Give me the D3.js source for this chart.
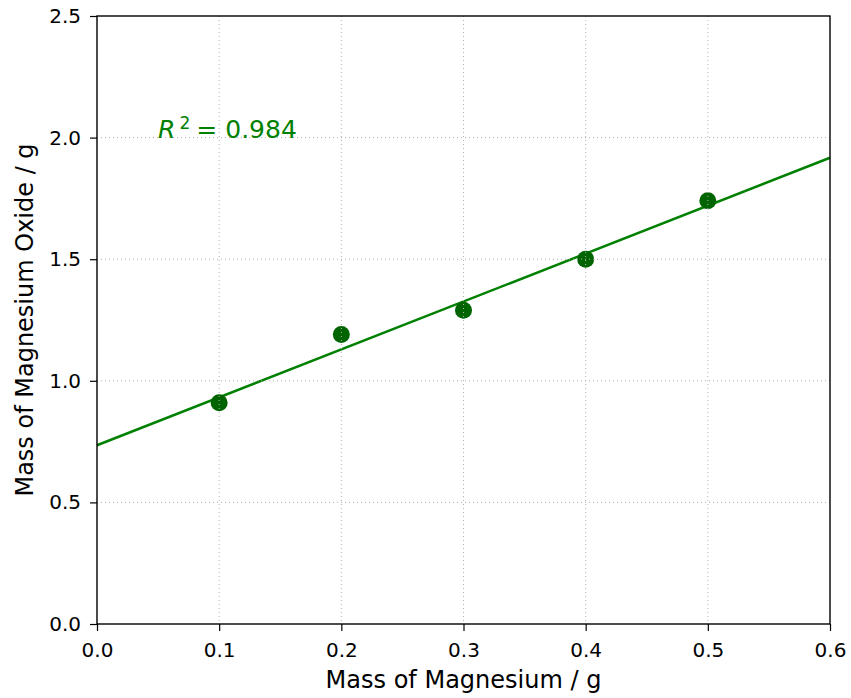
<!DOCTYPE html>
<html>
<head>
<meta charset="utf-8">
<script src="https://cdn.jsdelivr.net/npm/d3@7"></script>
<style>
  body { margin: 0; background: #fff; }
  svg text { font-family: "DejaVu Sans", sans-serif; }
</style>
</head>
<body>
<div id="chart"></div>
<script>
// data
let magnesium = [0.1, 0.2, 0.3, 0.4, 0.5];
let oxide = [0.91, 1.19, 1.29, 1.50, 1.74];
let xTicks = [0.0, 0.1, 0.2, 0.3, 0.4, 0.5, 0.6];
let yTicks = [0.0, 0.5, 1.0, 1.5, 2.0, 2.5];
let r2Label = '0.984';

let dim = { width: 851, height: 698 };
let plot = { left: 97, right: 830, top: 16, bottom: 624 };

let svg = d3.select('#chart')
    .append('svg')
    .attr('width', dim.width)
    .attr('height', dim.height);

let scaleX = d3.scaleLinear().domain([0, 0.6]).range([plot.left, plot.right]);
let scaleY = d3.scaleLinear().domain([0, 2.5]).range([plot.bottom, plot.top]);

// least squares fit
let mx = d3.mean(magnesium), my = d3.mean(oxide);
let sxy = d3.sum(magnesium, (x, i) => (x - mx) * (oxide[i] - my));
let sxx = d3.sum(magnesium, x => (x - mx) * (x - mx));
let slope = sxy / sxx;
let intercept = my - slope * mx;

// fit line across the whole x range
let fit = scaleX.domain().map(x => ({ x: x, y: intercept + slope * x }));
svg.append('path')
    .datum(fit)
    .attr('fill', 'none')
    .attr('stroke', '#008000')
    .attr('stroke-width', 2.5)
    .attr('d', d3.line().x(d => scaleX(d.x)).y(d => scaleY(d.y)));

// points
svg.append('g')
    .selectAll('circle')
    .data(magnesium)
    .join('circle')
    .attr('cx', d => scaleX(d))
    .attr('cy', (d, i) => scaleY(oxide[i]))
    .attr('r', 8.5)
    .attr('fill', '#006400');

// grid (sits on top like in the original)
let grid = svg.append('g')
    .attr('stroke', '#b0b0b0')
    .attr('stroke-width', 1)
    .attr('stroke-dasharray', '1,3');
grid.selectAll('.gx')
    .data(xTicks.slice(1, -1))
    .join('line')
    .attr('x1', d => scaleX(d)).attr('x2', d => scaleX(d))
    .attr('y1', plot.top).attr('y2', plot.bottom);
grid.selectAll('.gy')
    .data(yTicks.slice(1, -1))
    .join('line')
    .attr('y1', d => scaleY(d)).attr('y2', d => scaleY(d))
    .attr('x1', plot.left).attr('x2', plot.right);

// R^2 annotation
let note = svg.append('text')
    .attr('x', scaleX(0.05))
    .attr('y', scaleY(2.0))
    .attr('fill', '#008000')
    .attr('font-size', 25);
note.append('tspan').attr('font-style', 'italic').text('R');
note.append('tspan').style('font-size', '17px').attr('dx', 4).attr('dy', -9).text('2');
note.append('tspan').attr('dx', 6).attr('dy', 9).text('=');
note.append('tspan').attr('dx', 8).text(r2Label);

// axes
let axisX = svg.append('g')
    .attr('transform', `translate(0, ${plot.bottom})`)
    .call(d3.axisBottom(scaleX).tickValues(xTicks).tickFormat(d3.format('.1f'))
        .tickSize(7).tickSizeOuter(0).tickPadding(12));
let axisY = svg.append('g')
    .attr('transform', `translate(${plot.left}, 0)`)
    .call(d3.axisLeft(scaleY).tickValues(yTicks).tickFormat(d3.format('.1f'))
        .tickSize(7).tickSizeOuter(0).tickPadding(9));

function styleAxis(axis) {
    axis.select('.domain').remove();
    axis.attr('font-size', null).attr('font-family', null);
    axis.selectAll('line').attr('stroke', '#000').attr('stroke-width', 1.2);
    axis.selectAll('text')
        .attr('font-size', 20)
        .attr('fill', '#000');
}
styleAxis(axisX);
styleAxis(axisY);
axisX.selectAll('text').attr('dy', '0.72em');

// frame
svg.append('rect')
    .attr('x', plot.left).attr('y', plot.top)
    .attr('width', plot.right - plot.left)
    .attr('height', plot.bottom - plot.top)
    .attr('fill', 'none')
    .attr('stroke', '#000')
    .attr('stroke-width', 1.4);

// axis titles
svg.append('text')
    .attr('x', (plot.left + plot.right) / 2)
    .attr('y', 688)
    .attr('text-anchor', 'middle')
    .attr('font-size', 24)
    .text('Mass of Magnesium / g');
svg.append('text')
    .attr('transform', `translate(33, ${(plot.top + plot.bottom) / 2}) rotate(-90)`)
    .attr('text-anchor', 'middle')
    .attr('font-size', 24)
    .text('Mass of Magnesium Oxide / g');
</script>
</body>
</html>
